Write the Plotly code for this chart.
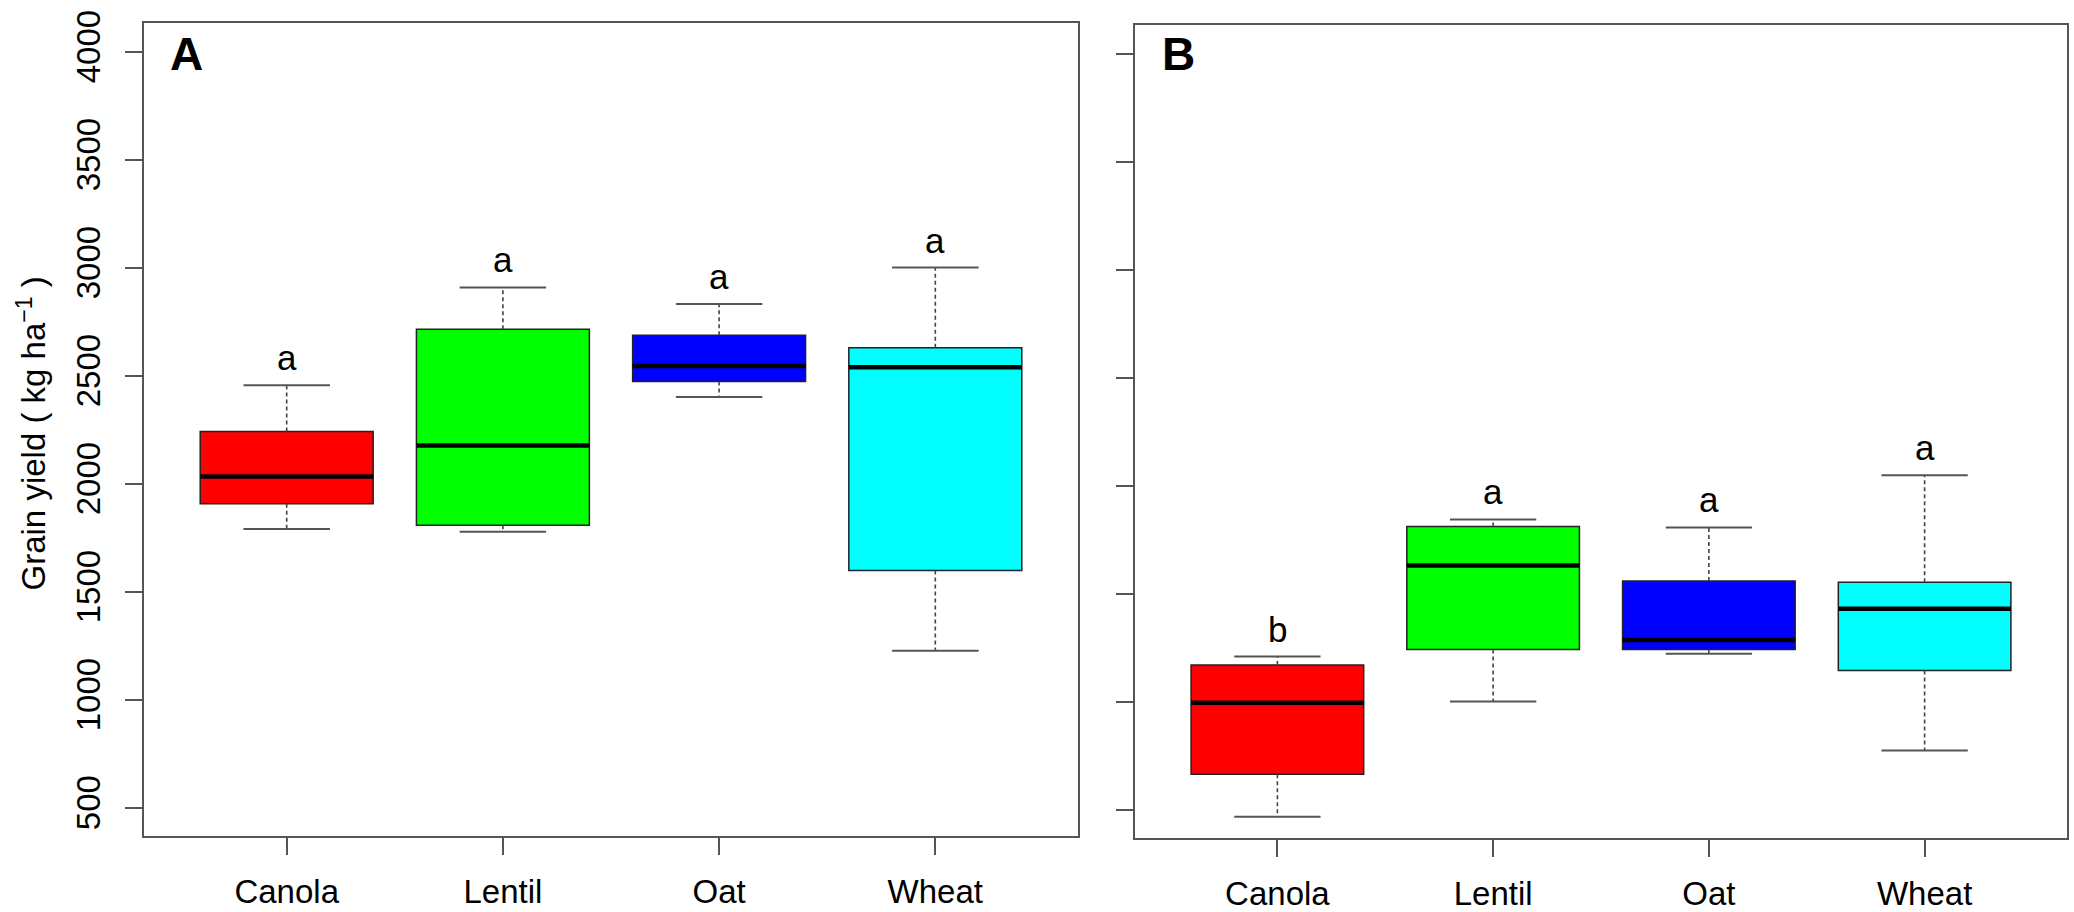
import plotly.graph_objects as go

# crops and panel data (grain yield, kg/ha)
crops = ["Canola", "Lentil", "Oat", "Wheat"]
colors = ["#FF0000", "#00FF00", "#0000FF", "#00FFFF"]

a_lower = [1790, 1777, 2401, 1226]
a_q1 = [1907, 1807, 2472, 1598]
a_median = [2033, 2176, 2544, 2538]
a_q3 = [2241, 2714, 2687, 2629]
a_upper = [2455, 2908, 2831, 3000]
a_letters = ["a", "a", "a", "a"]

b_lower = [467, 1000, 1221, 773]
b_q1 = [663, 1241, 1241, 1144]
b_median = [994, 1630, 1285, 1429]
b_q3 = [1169, 1810, 1558, 1552]
b_upper = [1208, 1843, 1806, 2047]
b_letters = ["b", "a", "a", "a"]

y_ticks = [500, 1000, 1500, 2000, 2500, 3000, 3500, 4000]

FONT = "Arial, Liberation Sans, sans-serif"
AXC = "#555555"
W, H = 2074, 912
box_w = 0.8
cap_w = 0.4

fig = go.Figure()
annotations = []

panels = [
    ("x", "y", a_lower, a_q1, a_median, a_q3, a_upper, a_letters),
    ("x2", "y2", b_lower, b_q1, b_median, b_q3, b_upper, b_letters),
]

for xr, yr, lo, q1, med, q3, up, letters in panels:
    pos = list(range(1, len(crops) + 1))
    # box bodies
    for i, p in enumerate(pos):
        fig.add_trace(go.Box(
            x=[p], q1=[q1[i]], median=[med[i]], q3=[q3[i]],
            lowerfence=[q1[i]], upperfence=[q3[i]],
            width=box_w, whiskerwidth=0, fillcolor=colors[i],
            line=dict(color="#222222", width=1.5),
            xaxis=xr, yaxis=yr, showlegend=False, hoverinfo="skip"))
    # dashed whiskers
    wx, wy = [], []
    for i, p in enumerate(pos):
        wx += [p, p, None, p, p, None]
        wy += [q3[i], up[i], None, q1[i], lo[i], None]
    fig.add_trace(go.Scatter(x=wx, y=wy, mode="lines", xaxis=xr, yaxis=yr,
                             line=dict(color="#444444", width=1.6, dash="4px,3px"),
                             showlegend=False, hoverinfo="skip"))
    # whisker caps
    cx, cy = [], []
    for i, p in enumerate(pos):
        cx += [p - cap_w / 2, p + cap_w / 2, None, p - cap_w / 2, p + cap_w / 2, None]
        cy += [up[i], up[i], None, lo[i], lo[i], None]
    fig.add_trace(go.Scatter(x=cx, y=cy, mode="lines", xaxis=xr, yaxis=yr,
                             line=dict(color="#555555", width=2),
                             showlegend=False, hoverinfo="skip"))
    # thick medians
    mx, my = [], []
    for i, p in enumerate(pos):
        mx += [p - box_w / 2, p + box_w / 2, None]
        my += [med[i], med[i], None]
    fig.add_trace(go.Scatter(x=mx, y=my, mode="lines", xaxis=xr, yaxis=yr,
                             line=dict(color="#000000", width=4.5),
                             showlegend=False, hoverinfo="skip"))
    # significance letters
    for i, p in enumerate(pos):
        annotations.append(dict(x=p, y=up[i], xref=xr, yref=yr, text=letters[i],
                                showarrow=False, yanchor="bottom", yshift=6,
                                font=dict(family=FONT, size=35, color="black")))

axis_common = dict(showline=True, linecolor=AXC, linewidth=2, mirror=True,
                   ticks="outside", ticklen=17, tickwidth=2, tickcolor=AXC,
                   showgrid=False, zeroline=False, ticklabeloverflow="allow",
                   tickfont=dict(family=FONT, size=33, color="black"))

xa = dict(axis_common, range=[0.34, 4.66], tickvals=[1, 2, 3, 4], ticktext=crops,
          ticklabelstandoff=8)
ya = dict(axis_common, range=[367, 4133], tickvals=y_ticks, tickangle=-90,
          ticklabelstandoff=12)

fig.update_layout(
    width=W, height=H,
    margin=dict(l=0, r=0, t=0, b=0),
    paper_bgcolor="white", plot_bgcolor="white",
    xaxis=dict(xa, domain=[144 / W, 1078 / W], anchor="y"),
    yaxis=dict(ya, domain=[1 - 839 / H, 1 - 11 / H], anchor="x"),
    xaxis2=dict(xa, domain=[1135 / W, 2067 / W], anchor="y2"),
    yaxis2=dict(ya, domain=[1 - 841 / H, 1 - 13 / H], anchor="x2",
                showticklabels=False),
    annotations=annotations + [
        dict(x=32 / W, y=1 - 429 / H, xref="paper", yref="paper",
             xanchor="center", yanchor="middle",
             text="Grain yield ( kg ha<sup>\u22121</sup> )", textangle=-90,
             showarrow=False, font=dict(family=FONT, size=33, color="black")),
        dict(x=168 / W, y=1 - 14 / H, xref="paper", yref="paper", text="<b>A</b>",
             xanchor="left", yanchor="top", showarrow=False,
             font=dict(family=FONT, size=46, color="black")),
        dict(x=1160 / W, y=1 - 14 / H, xref="paper", yref="paper", text="<b>B</b>",
             xanchor="left", yanchor="top", showarrow=False,
             font=dict(family=FONT, size=46, color="black")),
    ],
)

# drop the default page margin so the figure fills the window exactly
fig.write_html("out.html", config={"displayModeBar": False},
               post_script="document.body.style.margin='0';")
